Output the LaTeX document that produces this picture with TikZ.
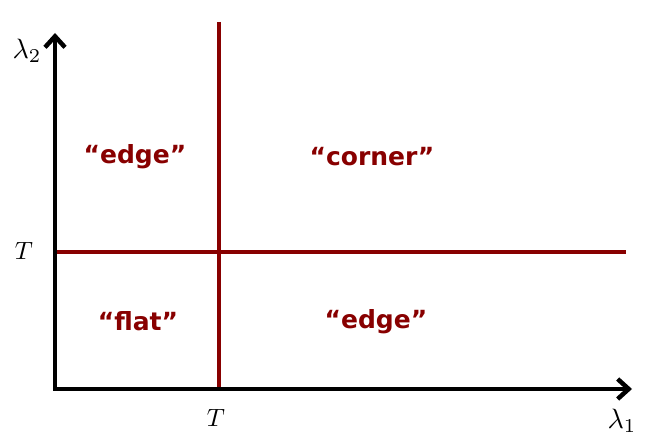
\documentclass[tikz,border=0pt]{standalone}
\usepackage{fontspec}
\setsansfont{DejaVu Sans}
\usepackage{xcolor}
\usetikzlibrary{arrows.meta,positioning,calc}
\definecolor{darkred}{RGB}{136,0,0}
\newcommand{\biglabel}[2][2.5]{\scalebox{#1}{#2}}

\begin{document}
\begin{tikzpicture}[x=1pt, y=-1pt, thick]
    \tikzset{
        axis/.style={draw, line width=4.5pt, line join=miter, {Straight Barb[length=11pt, width=20pt]}-{Straight Barb[length=11pt, width=20pt]}},
        thresh/.style={draw, line width=3.5pt, color=darkred},
        region/.style={text=darkred, font=\sffamily\bfseries\fontsize{25}{30}\selectfont},
        axlabel/.style={inner sep=0pt}
    }
    \useasboundingbox (0,0) rectangle (653,444);
    % axes
    \coordinate (origin) at (55,389);
    \coordinate (xend) at (632,389);
    \coordinate (yend) at (55,33);
    % thresholds
    \coordinate (vtop) at (219,22);
    \coordinate (vbot) at (219,389);
    \coordinate (hleft) at (55,252);
    \coordinate (hright) at (626,252);

    \path [thresh] (vtop) -- (vbot);
    \path [thresh] (hleft) -- (hright);
    \path [axis] (yend) -- (origin) -- (xend);

    \node [axlabel] (lamtwo) at (27,51) {\biglabel[2.8]{$\lambda_2$}};
    \node [axlabel] (lamone) at (622,421) {\biglabel[2.8]{$\lambda_1$}};
    \node [axlabel] (tleft) at (24,251) {\biglabel{$T$}};
    \node [axlabel] (tbot) at (216,418) {\biglabel{$T$}};

    \node [region] (edgetop) at (135,157) {“edge”};
    \node [region] (corner) at (372,157) {“corner”};
    \node [region] (flat) at (138,321) {“flat”};
    \node [region] (edgebot) at (376,322) {“edge”};
\end{tikzpicture}
\end{document}
